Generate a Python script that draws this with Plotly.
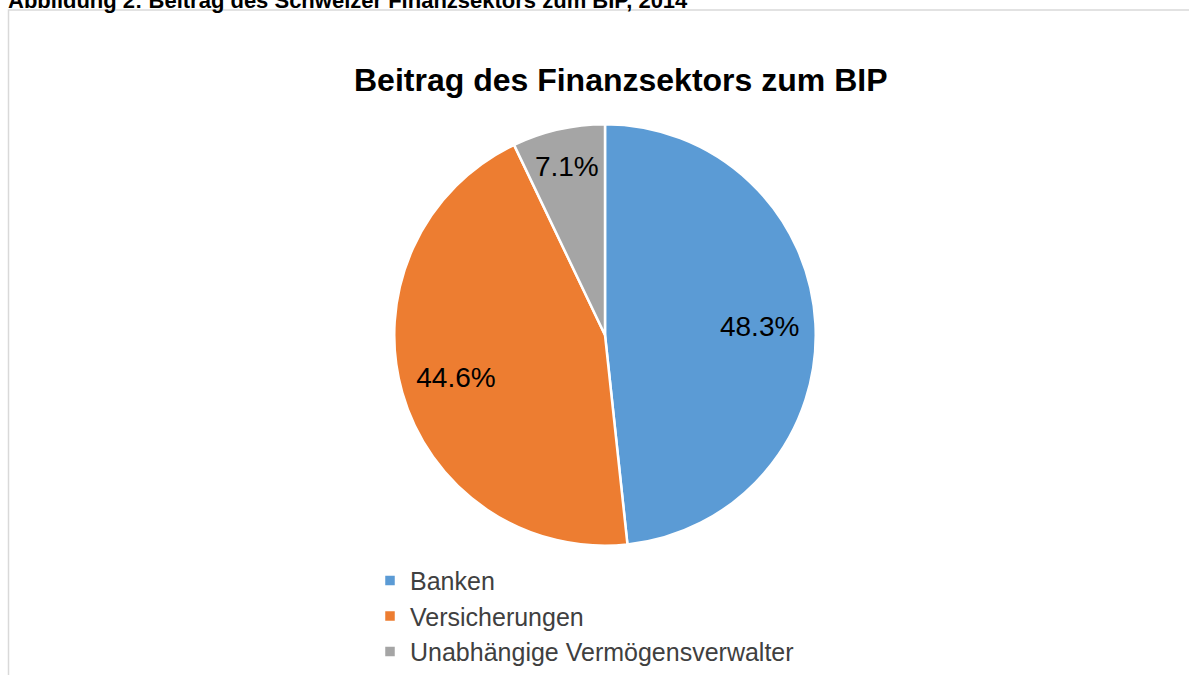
import plotly.graph_objects as go

categories = ["Banken", "Versicherungen", "Unabhängige Vermögensverwalter"]
values = [48.3, 44.6, 7.1]
colors = ["#5b9bd5", "#ed7d31", "#a5a5a5"]

W, H = 1189, 675
cx, cy, r = 605, 337, 212
dom = dict(x=[(cx - r) / W, (cx + r) / W], y=[(H - cy - r) / H, (H - cy + r) / H])

# full pie (colours, white separators, legend)
base = go.Pie(
    labels=categories, values=values, sort=False, direction="clockwise", rotation=0,
    marker=dict(colors=colors, line=dict(color="white", width=2.5)),
    textinfo="none", domain=dom, hoverinfo="label+percent", showlegend=True,
)
# transparent ring on top that carries the percent labels further out, like the original
ring = go.Pie(
    labels=categories, values=values, sort=False, direction="clockwise", rotation=0,
    hole=0.47,
    marker=dict(colors=["rgba(0,0,0,0)"] * len(values), line=dict(width=0)),
    textinfo="percent", texttemplate="%{percent:.1%}", textposition="inside",
    insidetextorientation="horizontal",
    textfont=dict(family="Liberation Sans, Arial", size=28, color="#000000"),
    domain=dom, hoverinfo="skip", showlegend=False,
)

fig = go.Figure([base, ring])

fig.update_layout(
    width=W, height=H,
    margin=dict(l=0, r=0, t=0, b=0),
    paper_bgcolor="white",
    showlegend=True,
    legend=dict(
        x=370 / W, y=(H - 561) / H, xanchor="left", yanchor="top",
        font=dict(family="Liberation Sans, Arial", size=25, color="#404040"),
        itemwidth=30, tracegroupgap=0, bgcolor="rgba(0,0,0,0)",
    ),
    shapes=[dict(
        type="rect", xref="paper", yref="paper",
        x0=8.5 / W, x1=1.01, y0=-0.05, y1=(H - 10) / H,
        line=dict(color="#d9d9d9", width=1.5), fillcolor="rgba(0,0,0,0)", layer="below",
    )],
    annotations=[
        dict(text="<b>Beitrag des Finanzsektors zum BIP</b>", xref="paper", yref="paper",
             x=620 / W, y=(H - 80) / H, xanchor="center", yanchor="middle", showarrow=False,
             font=dict(family="Liberation Sans, Arial", size=32, color="#000000")),
        dict(text="<b>Abbildung 2: Beitrag des Schweizer Finanzsektors zum BIP, 2014</b>",
             xref="paper", yref="paper", x=6 / W, y=(H - 1) / H, xanchor="left", yanchor="middle",
             showarrow=False,
             font=dict(family="Liberation Sans, Arial", size=22, color="#000000")),
    ],
)

fig.write_html(
    "out.html",
    config={"displayModeBar": False},
    post_script="document.body.style.margin='0';document.body.style.overflow='hidden';",
)
